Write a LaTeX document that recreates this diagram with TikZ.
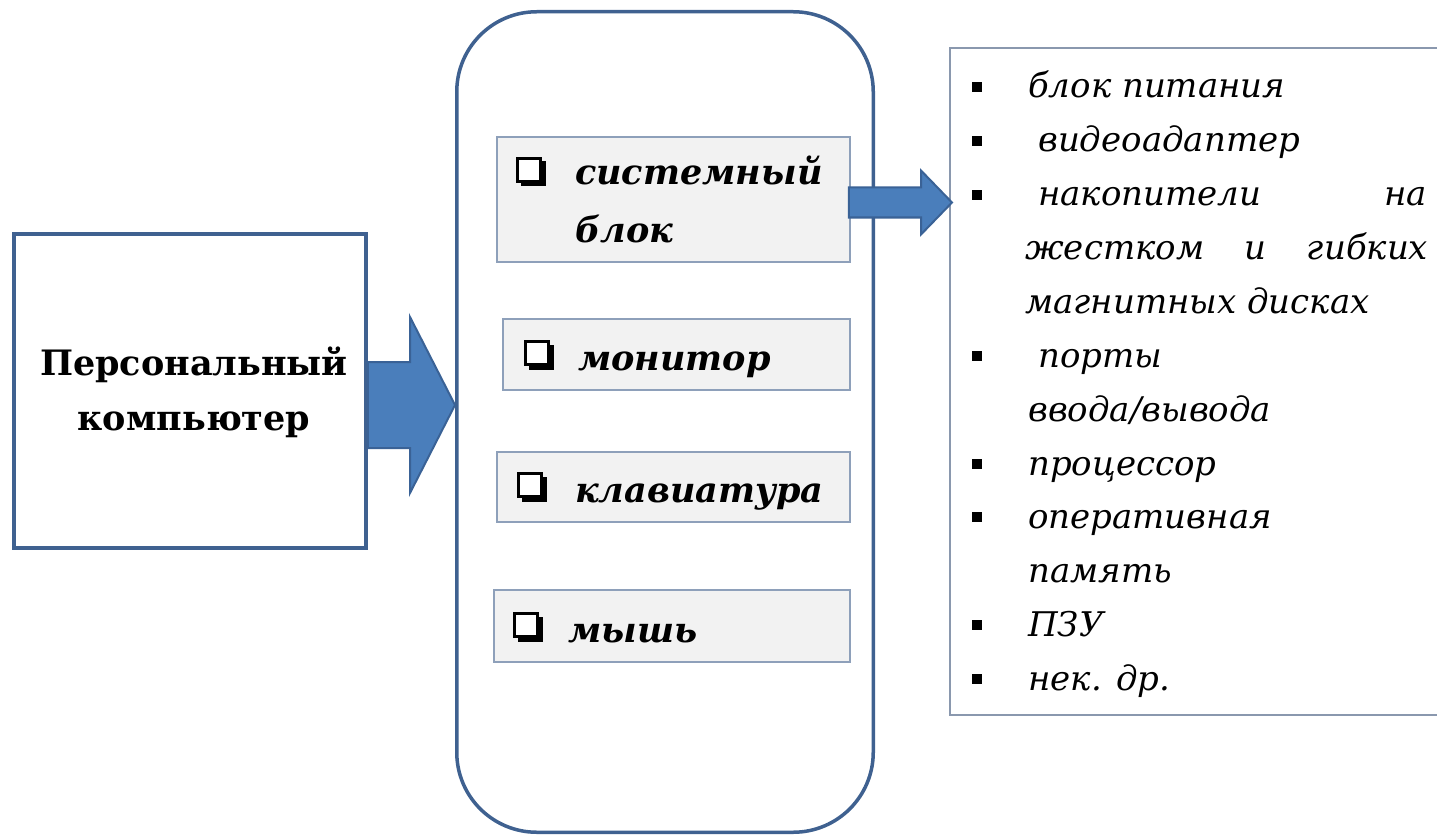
\documentclass[tikz,border=0pt]{standalone}
\usepackage{fontspec}
\setmainfont{DejaVu Serif}
\newfontfamily\labelserif{DejaVu Serif}

\begin{document}
\begin{tikzpicture}[x=1pt,y=-1pt,
  framebox/.style={draw={rgb,255:red,63;green,97;blue,144}, line width=3.5pt, fill=white, inner sep=0pt},
  partbox/.style={draw={rgb,255:red,142;green,160;blue,186}, line width=1.5pt,
    fill={rgb,255:red,242;green,242;blue,242}, inner sep=0pt},
  listbox/.style={draw={rgb,255:red,138;green,152;blue,174}, line width=2pt, fill=white, inner sep=0pt},
  blockarrow/.style={draw={rgb,255:red,58;green,98;blue,150}, line width=2pt,
    fill={rgb,255:red,74;green,126;blue,187}, line join=miter},
  checkbox/.style={draw=black, line width=2.2pt, fill=white, inner sep=0pt, minimum size=23pt},
  checkshadow/.style={fill=black, inner sep=0pt, minimum size=25pt},
  itembullet/.style={fill=black, inner sep=0pt, minimum size=10pt},
  pclabel/.style={anchor=base, inner sep=0pt, font=\fontsize{35}{40}\selectfont\labelserif\bfseries},
  partlabel/.style={anchor=base west, inner sep=0pt, font=\fontsize{35}{40}\selectfont\labelserif\bfseries\itshape},
  itemlabel/.style={anchor=base west, inner sep=0pt, font=\fontsize{34}{40}\selectfont\labelserif\itshape}
]
\useasboundingbox (0,0) rectangle (1437,837);

% personal computer box
\node[framebox, minimum width=352pt, minimum height=314pt] (pc) at (190,391) {};
\node[pclabel] (pc1) at (194,375) {Персональный};
\node[pclabel] (pc2) at (194,430) {компьютер};

% main rounded frame
\node[framebox, rounded corners=80pt, minimum width=416.5pt, minimum height=820.5pt] (main) at (665,422) {};

% component boxes
\node[partbox, minimum width=353pt, minimum height=125pt] (sys) at (673.5,199.5) {};
\node[partbox, minimum width=347pt, minimum height=71pt] (mon) at (676.5,354.5) {};
\node[partbox, minimum width=353pt, minimum height=70pt] (kbd) at (673.5,487) {};
\node[partbox, minimum width=356pt, minimum height=72pt] (mouse) at (672,626) {};

\node[checkshadow] (c1s) at (533,174) {};
\node[checkbox] (c1) at (529,170) {};
\node[checkshadow] (c2s) at (541,357) {};
\node[checkbox] (c2) at (537,353) {};
\node[checkshadow] (c3s) at (534,489) {};
\node[checkbox] (c3) at (530,485) {};
\node[checkshadow] (c4s) at (530,629) {};
\node[checkbox] (c4) at (526,625) {};

\node[partlabel] (t1a) at (575,185) {системный};
\node[partlabel] (t1b) at (575,242) {блок};
\node[partlabel] (t2) at (578,370) {монитор};
\node[partlabel] (t3) at (575,502) {клавиатура};
\node[partlabel] (t4) at (568,642) {мышь};

% list of system unit parts
\node[listbox, minimum width=510pt, minimum height=667pt] (list) at (1205,381.5) {};

\foreach \n/\y in {1/98,2/152,3/206,6/367,8/475,9/528,11/636,12/690}
  \node[itembullet] (b\n) at (977,\y-11) {};

\node[itemlabel] (i1) at (1028,98) {блок питания};
\node[itemlabel] (i2) at (1038,152) {видеоадаптер};
\node[itemlabel] (i3) at (1038,206) {\hbox to 389pt{накопители\hfill на}};
\node[itemlabel] (i4) at (1025,259) {\hbox to 403pt{жестком\hfill и\hfill гибких}};
\node[itemlabel] (i5) at (1025,313) {магнитных дисках};
\node[itemlabel] (i6) at (1038,367) {порты};
\node[itemlabel] (i7) at (1028,421) {ввода/вывода};
\node[itemlabel] (i8) at (1028,475) {процессор};
\node[itemlabel] (i9) at (1028,528) {оперативная};
\node[itemlabel] (i10) at (1028,582) {память};
\node[itemlabel] (i11) at (1028,636) {ПЗУ};
\node[itemlabel] (i12) at (1028,690) {нек. др.};

% block arrow from the computer to its parts
\coordinate (a1s) at ([yshift=-14pt]pc.east);
\coordinate (a1t) at (main.west |- a1s);
\draw[blockarrow] ([yshift=43pt]a1s) -- ([xshift=-45pt,yshift=43pt]a1t) -- ([xshift=-45pt,yshift=88pt]a1t)
  -- (a1t) -- ([xshift=-45pt,yshift=-88pt]a1t) -- ([xshift=-45pt,yshift=-43pt]a1t) -- ([yshift=-43pt]a1s) -- cycle;

% block arrow from the system unit to its list
\coordinate (a2s) at ([xshift=-2pt,yshift=-3pt]sys.east);
\coordinate (a2e) at (list.west |- a2s);
\coordinate (a2t) at ([xshift=3pt]a2e);
\draw[blockarrow] ([yshift=15pt]a2s) -- ([xshift=-31pt,yshift=15pt]a2t) -- ([xshift=-31pt,yshift=32pt]a2t)
  -- (a2t) -- ([xshift=-31pt,yshift=-32pt]a2t) -- ([xshift=-31pt,yshift=-15pt]a2t) -- ([yshift=-15pt]a2s) -- cycle;
\end{tikzpicture}
\end{document}
